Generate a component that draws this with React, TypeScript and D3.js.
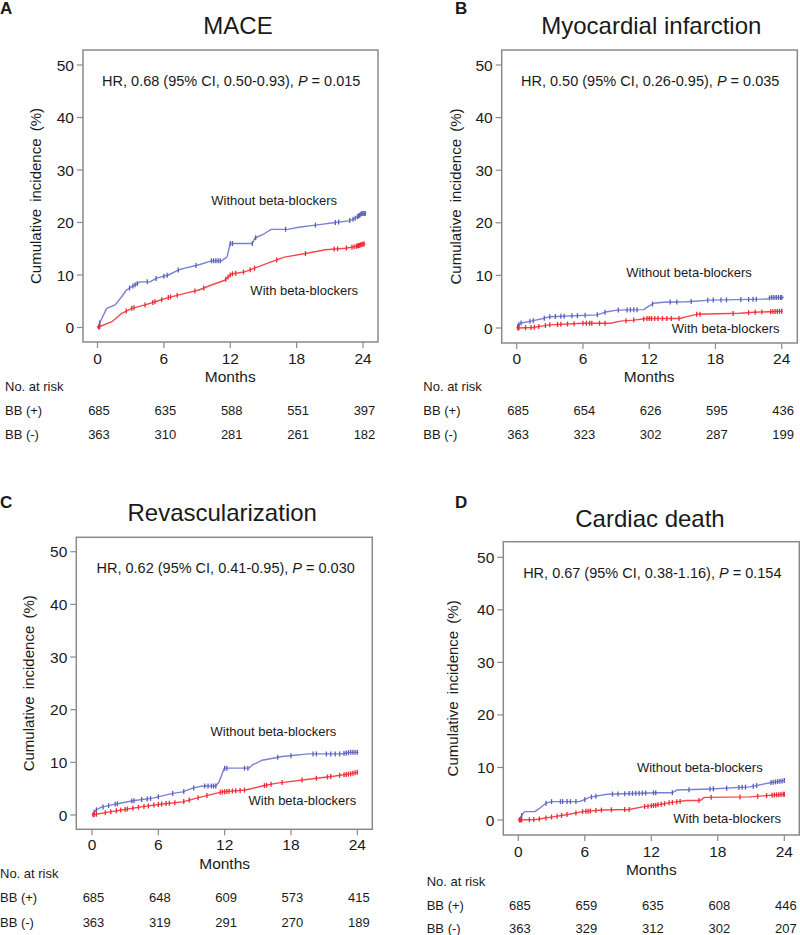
import React from "react";
import * as d3 from "d3";

type Pt = [number, number];

// ---------- DATA ----------
const monthTicks = [0, 6, 12, 18, 24];
const pctTicks = [0, 10, 20, 30, 40, 50];
const panelLetters = ["A", "B", "C", "D"];
const panelTitles = ["MACE", "Myocardial infarction", "Revascularization", "Cardiac death"];
const hrPrefixes = [
  "HR, 0.68 (95% CI, 0.50-0.93), ",
  "HR, 0.50 (95% CI, 0.26-0.95), ",
  "HR, 0.62 (95% CI, 0.41-0.95), ",
  "HR, 0.67 (95% CI, 0.38-1.16), ",
];
const pValues = ["0.015", "0.035", "0.030", "0.154"];
const seriesNames = ["Without beta-blockers", "With beta-blockers"];
const riskGroups = ["BB (+)", "BB (-)"];
const riskBBplus = [
  [685, 635, 588, 551, 397],
  [685, 654, 626, 595, 436],
  [685, 648, 609, 573, 415],
  [685, 659, 635, 608, 446],
];
const riskBBminus = [
  [363, 310, 281, 261, 182],
  [363, 323, 302, 287, 199],
  [363, 319, 291, 270, 189],
  [363, 329, 312, 302, 207],
];

// cumulative incidence curves [month, %]
const maceWithout: Pt[] = [
  [0, 0], [0.83, 3.65], [1.6, 4.3], [2.2, 5.9], [2.6, 7.1], [3.1, 7.8], [3.85, 8.7], [4.75, 8.7],
  [5.35, 9.4], [6.4, 10.0], [7.3, 10.95], [7.9, 11.3], [9.1, 11.9], [10.3, 12.7], [11.2, 12.7],
  [11.7, 13.4], [12.0, 16.0], [14.0, 16.0], [14.2, 17.0], [15.1, 17.9], [15.7, 18.7], [17.2, 18.7],
  [18.2, 19.1], [19.7, 19.5], [21.5, 20.0], [22.7, 20.3], [23.3, 20.8], [23.9, 21.7], [24.3, 21.7],
];
const maceWith: Pt[] = [
  [0, 0], [1.3, 1.1], [2.2, 2.7], [3.1, 3.65], [4.3, 4.3], [5.5, 5.1], [6.4, 5.7], [7.9, 6.5],
  [9.1, 7.1], [10.3, 8.1], [11.5, 9.0], [12.1, 10.2], [13.3, 10.6], [14.2, 11.3], [15.7, 12.5],
  [16.9, 13.4], [18.8, 14.1], [20.6, 14.8], [22.4, 15.1], [23.3, 15.4], [24.0, 15.9], [24.2, 15.9],
];
const miWithout: Pt[] = [
  [0, 0], [0.3, 0.9], [1.5, 1.4], [2.4, 1.8], [3.0, 2.15], [7.25, 2.5], [8.2, 3.1], [9.1, 3.4],
  [11.5, 3.5], [11.9, 4.05], [12.4, 4.7], [13.3, 4.9], [15.4, 5.0], [17.5, 5.3], [22.7, 5.5],
  [23.0, 5.8], [24.2, 5.8],
];
const miWith: Pt[] = [
  [0, 0], [1.5, 0.1], [2.4, 0.4], [3.0, 0.6], [6.0, 0.9], [8.5, 0.9], [9.4, 1.3], [10.6, 1.5],
  [11.8, 1.8], [14.8, 1.8], [15.4, 2.15], [16.3, 2.6], [20.2, 2.8], [21.5, 3.0], [23.0, 3.1],
  [24.1, 3.2],
];
const revascWithout: Pt[] = [
  [0, 0], [0.36, 0.95], [0.8, 1.45], [2.2, 2.1], [3.7, 2.7], [5.5, 3.2], [7.3, 4.1], [8.2, 4.4],
  [9.1, 5.1], [10.0, 5.5], [11.2, 5.5], [11.5, 6.3], [11.96, 8.9], [14.2, 8.9], [14.5, 9.5],
  [15.4, 10.4], [17.2, 11.1], [19.6, 11.6], [22.6, 11.6], [23.3, 11.9], [24.1, 11.9],
];
const revascWith: Pt[] = [
  [0, 0], [1.6, 0.6], [3.1, 1.1], [4.6, 1.6], [6.4, 2.1], [8.2, 2.5], [10.0, 3.5], [11.2, 4.1],
  [11.8, 4.4], [13.9, 4.75], [15.4, 5.5], [16.6, 6.0], [19.6, 6.8], [22.0, 7.4], [23.3, 7.8],
  [24.0, 8.1],
];
const deathWithout: Pt[] = [
  [0, 0], [0.57, 1.6], [1.5, 1.6], [1.9, 2.2], [2.5, 3.2], [3.0, 3.5], [5.5, 3.5], [6.0, 3.9],
  [6.4, 4.3], [8.0, 4.9], [12.5, 5.2], [13.9, 5.2], [14.3, 5.7], [17.3, 5.9], [20.9, 6.3],
  [22.7, 7.1], [24.0, 7.5],
];
const deathWith: Pt[] = [
  [0, 0], [1.6, 0.1], [3.1, 0.6], [4.6, 1.1], [5.8, 1.6], [7.6, 1.9], [10.0, 2.0], [11.2, 2.5],
  [12.5, 2.85], [13.7, 3.3], [15.2, 3.7], [16.4, 3.7], [16.8, 4.3], [20.9, 4.4], [22.1, 4.6],
  [24.0, 4.9],
];

// censoring times (months)
const maceWithoutCens = [0.2, 2.9, 3.2, 3.4, 3.6, 4.5, 5.3, 6.0, 6.3, 7.3, 8.9, 10.3, 10.5, 10.7, 10.9, 11.1, 12.0, 12.2, 14.0, 14.3, 17.0, 19.7, 21.5, 21.8, 22.8, 23.1, 23.3, 23.5, 23.6, 23.7, 23.8, 23.9, 24.0, 24.1, 24.2];
const maceWithCens = [0.1, 0.2, 2.6, 3.1, 3.3, 4.3, 5.0, 5.2, 5.8, 6.4, 6.6, 7.2, 8.8, 9.6, 11.6, 11.8, 12.0, 12.2, 12.5, 13.2, 13.8, 14.2, 16.2, 18.8, 21.4, 21.7, 22.5, 23.0, 23.2, 23.4, 23.5, 23.6, 23.7, 23.8, 23.9, 24.0, 24.1];
const miWithoutCens = [0.1, 0.2, 0.4, 1.2, 1.5, 2.5, 3.0, 3.5, 4.0, 4.3, 5.0, 5.5, 6.2, 7.3, 8.0, 9.2, 10.0, 10.3, 10.6, 10.9, 12.3, 13.9, 14.5, 15.8, 17.3, 17.8, 18.5, 19.0, 20.3, 21.0, 21.4, 21.7, 22.9, 23.1, 23.3, 23.5, 23.7, 23.9, 24.0];
const miWithCens = [0.1, 0.2, 0.8, 1.3, 1.6, 2.0, 2.6, 3.0, 3.7, 4.0, 4.6, 5.2, 6.0, 6.3, 6.6, 6.8, 7.5, 8.0, 9.9, 10.6, 11.5, 11.8, 12.0, 12.2, 12.5, 12.8, 13.2, 13.6, 14.0, 14.7, 16.3, 16.6, 19.6, 21.0, 21.6, 22.2, 23.0, 23.2, 23.4, 23.6, 23.8, 24.0];
const revascWithoutCens = [0.2, 0.4, 1.0, 1.5, 2.1, 2.3, 3.6, 3.8, 4.5, 5.0, 5.3, 6.0, 7.3, 8.3, 9.2, 10.2, 10.5, 10.8, 11.0, 11.2, 12.0, 12.2, 13.8, 14.1, 16.8, 18.0, 20.0, 20.3, 21.2, 21.6, 22.0, 22.4, 22.8, 23.0, 23.2, 23.4, 23.6, 23.8, 24.0];
const revascWithCens = [0.1, 0.2, 0.4, 1.2, 1.7, 2.2, 2.6, 3.0, 3.2, 3.7, 4.2, 4.7, 5.1, 5.6, 6.0, 6.3, 6.7, 7.0, 7.5, 8.3, 8.8, 9.6, 10.4, 11.6, 11.8, 12.0, 12.2, 12.4, 12.7, 13.0, 13.4, 13.8, 15.6, 15.8, 16.2, 17.2, 19.0, 20.3, 21.3, 21.6, 22.4, 22.8, 23.0, 23.2, 23.4, 23.6, 23.8, 24.0];
const deathWithoutCens = [0.3, 2.5, 3.0, 3.8, 4.0, 4.4, 4.7, 5.2, 6.0, 6.6, 7.0, 8.5, 9.0, 9.6, 10.0, 10.3, 10.6, 10.9, 11.2, 11.5, 12.2, 12.4, 13.9, 15.4, 17.3, 17.6, 18.8, 19.9, 20.2, 20.5, 21.2, 21.5, 22.8, 23.0, 23.2, 23.4, 23.6, 23.8, 24.0];
const deathWithCens = [0.1, 0.2, 0.3, 1.0, 1.4, 1.9, 2.5, 3.0, 3.5, 3.9, 4.4, 5.2, 5.8, 6.1, 6.3, 6.5, 7.0, 7.5, 8.4, 9.6, 10.0, 11.4, 11.7, 12.0, 12.2, 12.4, 12.6, 12.9, 13.2, 13.6, 13.9, 14.3, 14.6, 16.3, 17.4, 20.0, 21.6, 22.4, 22.9, 23.1, 23.3, 23.5, 23.7, 23.9, 24.0];

const curvesWithout = [maceWithout, miWithout, revascWithout, deathWithout];
const curvesWith = [maceWith, miWith, revascWith, deathWith];
const censWithout = [maceWithoutCens, miWithoutCens, revascWithoutCens, deathWithoutCens];
const censWith = [maceWithCens, miWithCens, revascWithCens, deathWithCens];

// ---------- LAYOUT ----------
type Layout = {
  box: { l: number; t: number; r: number; b: number };
  x0: number; x24: number; y0: number; y50: number;
  letterX: number; letterY: number;
  titleX: number; titleY: number;
  yTitleX: number;
  tickLabelY: number; monthsY: number;
  riskX: number; riskTitleY: number; riskRow1Y: number; riskRow2Y: number;
  withoutAnchor: Pt; withAnchor: Pt;
};

const layouts: Layout[] = [
  {
    box: { l: 83, t: 50, r: 378, b: 342 }, x0: 97.5, x24: 363, y0: 327.5, y50: 65,
    letterX: 0, letterY: 14, titleX: 238, titleY: 34.3, yTitleX: 35,
    tickLabelY: 364, monthsY: 381.7,
    riskX: 5, riskTitleY: 391, riskRow1Y: 415, riskRow2Y: 439.3,
    withoutAnchor: [21.65, 23.3], withAnchor: [23.55, 6.2],
  },
  {
    box: { l: 501.7, t: 50, r: 797.3, b: 343 }, x0: 516.7, x24: 781.7, y0: 328, y50: 65,
    letterX: 455, letterY: 14, titleX: 651.3, titleY: 34.3, yTitleX: 455,
    tickLabelY: 364, monthsY: 381.7,
    riskX: 423.3, riskTitleY: 391, riskRow1Y: 415, riskRow2Y: 439.3,
    withoutAnchor: [21.3, 9.75], withAnchor: [23.8, -1.0],
  },
  {
    box: { l: 76.3, t: 537.3, r: 372.3, b: 829.3 }, x0: 92, x24: 357.3, y0: 815, y50: 551.7,
    letterX: 0, letterY: 508.3, titleX: 222.2, titleY: 521, yTitleX: 28,
    tickLabelY: 850, monthsY: 869,
    riskX: 0, riskTitleY: 878.3, riskRow1Y: 901.7, riskRow2Y: 926.7,
    withoutAnchor: [22.1, 15.0], withAnchor: [23.9, 1.9],
  },
  {
    box: { l: 503.3, t: 541.7, r: 799.3, b: 835 }, x0: 518.3, x24: 784.3, y0: 820, y50: 557.3,
    letterX: 455, letterY: 508.3, titleX: 650, titleY: 526.7, yTitleX: 452.5,
    tickLabelY: 856.7, monthsY: 875,
    riskX: 426.7, riskTitleY: 886, riskRow1Y: 910, riskRow2Y: 933,
    withoutAnchor: [22.05, 9.2], withAnchor: [23.7, -0.6],
  },
];

const FONT = "'Liberation Sans', Arial, Helvetica, sans-serif";
const TEXT = "#1a1a1a";
const BLUE_LINE = "#7b80d3";
const BLUE_MARK = "#5a5fbf";
const RED_LINE = "#f4474d";
const RED_MARK = "#ee2a31";

function valueAt(curve: Pt[], t: number): number {
  const i = d3.bisector((d: Pt) => d[0]).right(curve, t);
  if (i <= 0) return curve[0][1];
  if (i >= curve.length) return curve[curve.length - 1][1];
  const a = curve[i - 1], b = curve[i];
  const f = (t - a[0]) / (b[0] - a[0] || 1);
  return a[1] + f * (b[1] - a[1]);
}

function Panel({ idx }: { idx: number }) {
  const L = layouts[idx];
  const x = d3.scaleLinear().domain([0, 24]).range([L.x0, L.x24]);
  const y = d3.scaleLinear().domain([0, 50]).range([L.y0, L.y50]);
  const line = d3.line<Pt>().x((d) => x(d[0])).y((d) => y(d[1])).curve(d3.curveLinear);
  const series = [
    { curve: curvesWithout[idx], cens: censWithout[idx], lc: BLUE_LINE, mc: BLUE_MARK },
    { curve: curvesWith[idx], cens: censWith[idx], lc: RED_LINE, mc: RED_MARK },
  ];
  const { box } = L;
  return (
    <g fontFamily={FONT} fill={TEXT}>
      <text x={L.letterX} y={L.letterY} fontSize={17} fontWeight="bold">{panelLetters[idx]}</text>
      <text x={L.titleX} y={L.titleY} fontSize={24} textAnchor="middle">{panelTitles[idx]}</text>
      <rect x={box.l} y={box.t} width={box.r - box.l} height={box.b - box.t} fill="none" stroke="#8a8a8a" strokeWidth={1.5} />
      {pctTicks.map((v) => (
        <g key={"y" + v}>
          <line x1={box.l - 6} x2={box.l} y1={y(v)} y2={y(v)} stroke="#8a8a8a" strokeWidth={1.2} />
          <text x={box.l - 9} y={y(v)} fontSize={15.5} textAnchor="end" dominantBaseline="central">{v}</text>
        </g>
      ))}
      {monthTicks.map((m) => (
        <g key={"x" + m}>
          <line x1={x(m)} x2={x(m)} y1={box.b} y2={box.b + 6} stroke="#8a8a8a" strokeWidth={1.2} />
          <text x={x(m)} y={L.tickLabelY} fontSize={15.5} textAnchor="middle">{m}</text>
        </g>
      ))}
      <text x={(x(0) + x(24)) / 2} y={L.monthsY} fontSize={15.5} textAnchor="middle">Months</text>
      <text
        transform={`translate(${L.yTitleX},${(box.t + box.b) / 2}) rotate(-90)`}
        fontSize={15} textAnchor="middle" dominantBaseline="central" wordSpacing={3}
      >Cumulative incidence (%)</text>
      <text x={x(12) + 1} y={y(50) + 21} fontSize={14.5} textAnchor="middle">
        <tspan>{hrPrefixes[idx]}</tspan>
        <tspan fontStyle="italic">P</tspan>
        <tspan>{" = " + pValues[idx]}</tspan>
      </text>
      {series.map((s, si) => (
        <g key={"s" + si}>
          <path d={line(s.curve) || ""} fill="none" stroke={s.lc} strokeWidth={1.4} strokeLinejoin="round" />
          {s.cens.map((t, ci) => {
            const v = valueAt(s.curve, t);
            return <line key={ci} x1={x(t)} x2={x(t)} y1={y(v) - 2.5} y2={y(v) + 2.5} stroke={s.mc} strokeWidth={1.3} />;
          })}
        </g>
      ))}
      <text x={x(L.withoutAnchor[0])} y={y(L.withoutAnchor[1])} fontSize={13} textAnchor="end">{seriesNames[0]}</text>
      <text x={x(L.withAnchor[0])} y={y(L.withAnchor[1])} fontSize={13} textAnchor="end">{seriesNames[1]}</text>
      <text x={L.riskX} y={L.riskTitleY} fontSize={13}>No. at risk</text>
      <text x={L.riskX} y={L.riskRow1Y} fontSize={13}>{riskGroups[0]}</text>
      <text x={L.riskX} y={L.riskRow2Y} fontSize={13}>{riskGroups[1]}</text>
      {monthTicks.map((m, i) => (
        <g key={"r" + m}>
          <text x={x(m) + 1.5} y={L.riskRow1Y} fontSize={13} textAnchor="middle">{riskBBplus[idx][i]}</text>
          <text x={x(m) + 1.5} y={L.riskRow2Y} fontSize={13} textAnchor="middle">{riskBBminus[idx][i]}</text>
        </g>
      ))}
    </g>
  );
}

export default function App() {
  return (
    <svg
      width={800}
      height={935}
      viewBox="0 0 800 935"
      style={{ position: "absolute", left: 0, top: 0, background: "#fff" }}
    >
      <rect x={0} y={0} width={800} height={935} fill="#fff" />
      {[0, 1, 2, 3].map((i) => <Panel key={i} idx={i} />)}
    </svg>
  );
}
